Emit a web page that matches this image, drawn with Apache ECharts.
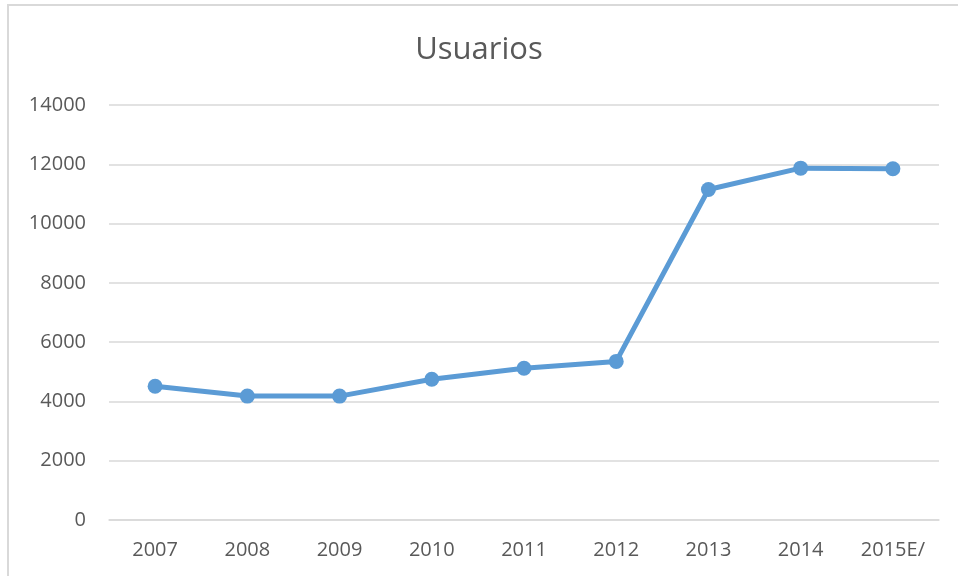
<!DOCTYPE html>
<html>
<head>
<meta charset="utf-8">
<title>Usuarios</title>
<script src="https://cdn.jsdelivr.net/npm/echarts@6/dist/echarts.min.js"></script>
<style>
  html, body { margin: 0; padding: 0; background: #fff; }
  #chart { width: 958px; height: 576px; }
</style>
</head>
<body>
<div id="chart"></div>
<script>
// datos
const years = ['2007', '2008', '2009', '2010', '2011', '2012', '2013', '2014', '2015E/'];
const usuarios = [4510, 4180, 4180, 4750, 5120, 5350, 11150, 11870, 11850];
const yTicks = { min: 0, max: 14000, interval: 2000 };

const textColor = '#595959';
const lineColor = '#5b9bd5';
const fontFamily = '"Open Sans", "Liberation Sans", sans-serif';

const chart = echarts.init(document.getElementById('chart'));

const option = {
  animation: false,
  // marco del gráfico
  graphic: [
    {
      type: 'rect',
      shape: { x: 8, y: 5, width: 1000, height: 700 },
      style: { fill: 'none', stroke: '#d9d9d9', lineWidth: 2 },
      silent: true,
    },
  ],
  title: {
    text: 'Usuarios',
    left: 'center',
    top: 30,
    textStyle: {
      color: textColor,
      fontFamily: fontFamily,
      fontSize: 31,
      fontWeight: 'normal',
    },
  },
  grid: {
    left: 109,
    right: 19,
    top: 105,
    bottom: 56,
  },
  xAxis: {
    type: 'category',
    data: years,
    boundaryGap: true,
    axisLine: { show: true, lineStyle: { color: '#d9d9d9', width: 1.5 } },
    axisTick: { show: false },
    axisLabel: {
      color: textColor,
      fontFamily: fontFamily,
      fontSize: 20,
      margin: 20,
    },
  },
  yAxis: {
    type: 'value',
    min: yTicks.min,
    max: yTicks.max,
    interval: yTicks.interval,
    axisLine: { show: false },
    axisTick: { show: false },
    splitLine: { lineStyle: { color: '#d9d9d9', width: 1.5 } },
    axisLabel: {
      color: textColor,
      fontFamily: fontFamily,
      fontSize: 20,
      margin: 23,
      formatter: (v) => String(v),
    },
  },
  series: [
    {
      name: 'Usuarios',
      type: 'line',
      data: usuarios,
      symbol: 'circle',
      symbolSize: 15,
      lineStyle: { color: lineColor, width: 5 },
      itemStyle: { color: lineColor },
    },
  ],
};

chart.setOption(option);
</script>
</body>
</html>
